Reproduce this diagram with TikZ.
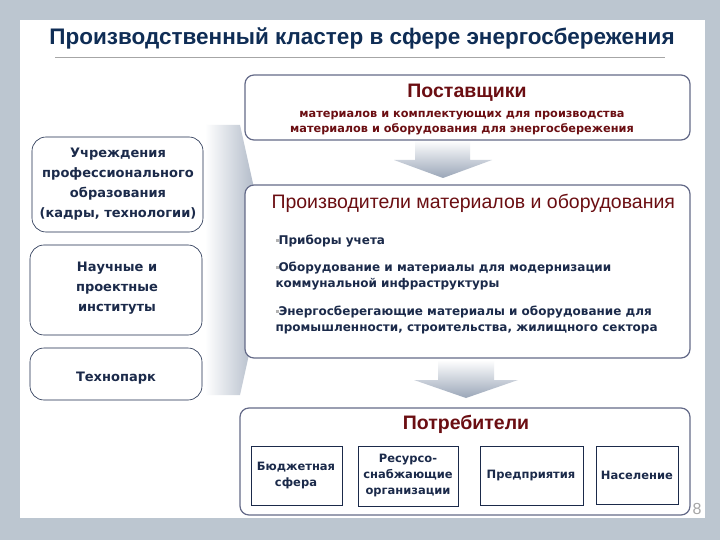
\documentclass[tikz,border=0pt]{standalone}
\usepackage{fontspec}
\setmainfont{Liberation Sans}
\newfontfamily\dv{DejaVu Sans}
\usetikzlibrary{shapes.geometric}
\definecolor{bg}{HTML}{BCC6D0}
\definecolor{navy}{HTML}{1B2A4A}
\definecolor{ttl}{HTML}{0F2D55}
\definecolor{dred}{HTML}{6B0E12}
\definecolor{frame}{HTML}{646A88}
\definecolor{arr}{HTML}{9AA6B8}
\newcommand{\mybul}{\textcolor{gray!60}{\rule[0.45ex]{3pt}{3pt}}}
\tikzset{
  rbox/.style={draw=frame, line width=1.2pt, rounded corners=9pt, fill=white},
  lbox/.style={draw=navy, line width=0.6pt, rounded corners=14pt, fill=white},
  sbox/.style={draw=navy, line width=0.6pt, fill=white},
  txt/.style={text=navy, font=\dv\bfseries\fontsize{11.5}{16}\selectfont, align=center},
  red/.style={text=dred, font=\bfseries\fontsize{19.5}{22}\selectfont},
}
\begin{document}
\begin{tikzpicture}[x=1pt,y=-1pt]
\useasboundingbox (0,0) rectangle (720,540);
\fill[bg] (0,0) rectangle (720,540);
\fill[white] (20,20) rectangle (705,518);
\node[text=ttl, font=\bfseries\fontsize{22.5}{26}\selectfont] (title) at (362,38) {Производственный кластер в сфере энергосбережения};
\draw[gray!70, line width=1pt] (55,58) -- (665,58);
% big right arrow
\shade[left color=white, right color=arr] (205,125) -- (240,125) -- (270,260) -- (240,395) -- (205,395) -- cycle;
% down arrows
\shade[top color=white, bottom color=arr] (415,140) -- (470,140) -- (470,160) -- (492,160) -- (443,178) -- (394,160) -- (415,160) -- cycle;
\shade[top color=white, bottom color=arr] (438,360) -- (494,360) -- (494,380) -- (518,380) -- (466,398) -- (414,380) -- (438,380) -- cycle;
% suppliers
\draw[rbox] (245,75) rectangle (690,140);
\node[red] (sup) at (467,93) {Поставщики};
\node[text=dred, font=\dv\bfseries\fontsize{11.3}{15}\selectfont, align=center] (supt) at (462,123) {материалов и комплектующих для производства\\материалов и оборудования для энергосбережения};
% left boxes
\draw[lbox] (32,137) rectangle (203,232);
\node[txt, font=\dv\bfseries\fontsize{13}{20}\selectfont] (l1) at (118,184) {Учреждения\\профессионального\\образования\\(кадры, технологии)};
\draw[lbox] (30,245) rectangle (202,335);
\node[txt, font=\dv\bfseries\fontsize{13}{20}\selectfont] (l2) at (117,288) {Научные и\\проектные\\институты};
\draw[lbox] (30,348) rectangle (202,400);
\node[txt, font=\dv\bfseries\fontsize{13}{20}\selectfont] (l3) at (116,378) {Технопарк};
% producers
\draw[rbox] (245,185) rectangle (690,358);
\node[text=dred, font=\fontsize{19.5}{22}\selectfont, anchor=west] (prod) at (268,203) {Производители материалов и оборудования};
\node[txt, anchor=west, align=left, font=\dv\bfseries\fontsize{12}{16}\selectfont] (b1) at (272,241) {\mybul Приборы учета};
\node[txt, anchor=west, align=left, font=\dv\bfseries\fontsize{12}{16}\selectfont] (b2) at (272,276) {\mybul Оборудование и материалы для модернизации\\коммунальной инфраструктуры};
\node[txt, anchor=west, align=left, font=\dv\bfseries\fontsize{12}{16}\selectfont] (b3) at (272,320) {\mybul Энергосберегающие материалы и оборудование для\\промышленности, строительства, жилищного сектора};
% consumers
\draw[rbox] (240,408) rectangle (690,515);
\node[red] (cons) at (466,424) {Потребители};
\draw[sbox] (251,446) rectangle (342,505);
\node[txt] (c1) at (296,476) {Бюджетная\\сфера};
\draw[sbox] (358,446) rectangle (458,506);
\node[txt] (c2) at (408,476) {Ресурсо-\\снабжающие\\организации};
\draw[sbox] (480,446) rectangle (583,505);
\node[txt] (c3) at (531,476) {Предприятия};
\draw[sbox] (596,446) rectangle (678,504);
\node[txt] (c4) at (637,475) {Население};
\node[text=gray!70, font=\fontsize{16}{18}\selectfont] (pg) at (697,509) {8};
\end{tikzpicture}
\end{document}
